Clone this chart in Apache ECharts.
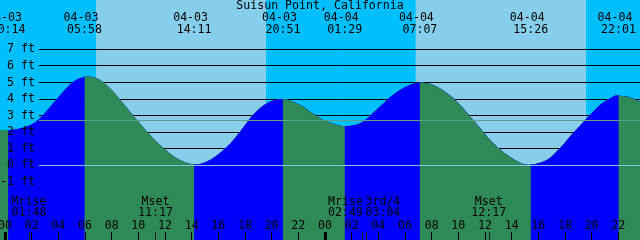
<!DOCTYPE html>
<html><head><meta charset="utf-8">
<script src="https://cdn.jsdelivr.net/npm/echarts@6/dist/echarts.min.js"></script>
<style>html,body{margin:0;padding:0;background:#fff}#c{width:640px;height:240px}</style>
</head><body><div id="c"></div>
<script>
// ---- data (hours from 04-03 00:00, heights in feet) ----
const hours = [-0.375, 0.233, 1.125, 2.1, 2.85, 3.6, 4.35, 5.1, 5.967, 6.9, 7.875, 8.85, 9.9, 10.875, 11.625, 12.9, 14.183, 15.375, 16.65, 17.625, 18.6, 19.65, 20.85, 22.125, 23.625, 24.6, 25.483, 26.625, 27.6, 28.65, 29.625, 30.375, 31.117, 32.1, 33.15, 34.125, 35.1, 35.625, 36.6, 37.65, 38.625, 39.433, 40.65, 41.625, 42.6, 43.65, 44.625, 45.6, 46.017, 46.875, 47.625];
const heights = [2.13, 2.12, 2.23, 2.53, 3.04, 3.74, 4.44, 5.05, 5.35, 5.25, 4.65, 3.74, 2.73, 1.83, 1.23, 0.42, 0.05, 0.32, 1.12, 2.03, 3.04, 3.74, 4.0, 3.64, 2.84, 2.53, 2.37, 2.53, 3.14, 3.94, 4.54, 4.85, 4.98, 4.85, 4.35, 3.64, 2.73, 2.23, 1.33, 0.62, 0.16, 0.03, 0.32, 1.03, 1.93, 2.84, 3.64, 4.14, 4.2, 4.1, 3.84];

const eventHours = [0.233, 5.967, 14.183, 20.85, 25.483, 31.117, 39.433, 46.017];
const eventKinds = ['L', 'H', 'L', 'H', 'L', 'H', 'L', 'H'];
const eventDates = ['04-03', '04-03', '04-03', '04-03', '04-04', '04-04', '04-04', '04-04'];
const eventTimes = ['00:14', '05:58', '14:11', '20:51', '01:29', '07:07', '15:26', '22:01'];

const sunriseHours = [6.83, 30.8];
const sunsetHours = [19.58, 43.58];

const moonHours = [1.8, 11.283, 26.817, 27.067, 36.283];
const moonNames = ['Mrise', 'Mset', 'Mrise', '3rd/4', 'Mset'];
const moonTimes = ['01:48', '11:17', '02:49', '03:04', '12:17'];

const hourTicks = [0, 2, 4, 6, 8, 10, 12, 14, 16, 18, 20, 22, 24, 26, 28, 30, 32, 34, 36, 38, 40, 42, 44, 46];
const midnightTicks = [0, 24];
const ftTicks = [-1, 0, 1, 2, 3, 4, 5, 6, 7];
const datumLevel = 0;
const midLevel = 2.71;
const title = 'Suisun Point, California';

// ---- styling ----
const FONT = 'DejaVu Sans Mono';
const FS = 11.6;
const GRID_LEFT = 39;
const X_MIN = -0.375, X_MAX = 47.625, Y_MIN = -4.51, Y_MAX = 9.98;
const NIGHT = '#00BFFF', DAY = '#87CEEB', RISE = '#0000FF', FALL = '#2E8B57';
const pad2 = v => String(((Math.round(v) % 24) + 24) % 24).padStart(2, '0');
const txt = { fontFamily: FONT, fontSize: FS, color: '#000' };

// water: one opaque filled path per rising/falling segment, each from its start to the end,
// later segments painted over earlier ones; the black foot lines are drawn first, underneath
const segStarts = [hours[0]].concat(eventHours);
const segColors = segStarts.map((b, k) => {
  const startKind = k === 0 ? (eventKinds[0] === 'L' ? 'H' : 'L') : eventKinds[k - 1];
  return startKind === 'L' ? RISE : FALL;
});

function waterItem(params, api) {
  const k = params.dataIndex;
  if (k === segStarts.length) {
    const xr = api.coord([X_MAX, 0])[0];
    return { type: 'group', children: ftTicks.map(v => {
      const y = Math.floor(api.coord([X_MIN, v])[1]) + 0.5;
      return { type: 'line', z2: 0, shape: { x1: GRID_LEFT, y1: y, x2: xr, y2: y },
        style: { stroke: '#000', lineWidth: 1 } };
    }) };
  }
  const P = hours.map((h, i) => api.coord([h, heights[i]]));
  const yb = api.coord([X_MIN, Y_MIN])[1];
  const n = P.length;
  const i0 = Math.max(0, hours.indexOf(segStarts[k]));
  const f = v => v.toFixed(2);
  let d = 'M' + f(P[i0][0]) + ',' + f(yb) + 'L' + f(P[i0][0]) + ',' + f(P[i0][1]);
  for (let i = i0; i < n - 1; i++) {
    const p0 = P[Math.max(i - 1, 0)], p1 = P[i], p2 = P[i + 1], p3 = P[Math.min(i + 2, n - 1)];
    d += 'C' + f(p1[0] + (p2[0] - p0[0]) / 6) + ',' + f(p1[1] + (p2[1] - p0[1]) / 6) + ',' +
      f(p2[0] - (p3[0] - p1[0]) / 6) + ',' + f(p2[1] - (p3[1] - p1[1]) / 6) + ',' +
      f(p2[0]) + ',' + f(p2[1]);
  }
  d += 'L' + f(P[n - 1][0]) + ',' + f(yb) + 'Z';
  return { type: 'path', z2: k + 5, shape: { pathData: d }, style: { fill: segColors[k], opacity: 1 } };
}

function moonLabel(v) {
  const i = moonHours.indexOf(v);
  let st = 'm';
  if (i < moonHours.length - 1 && moonHours[i + 1] - v < 2) st = 'l';
  else if (i > 0 && v - moonHours[i - 1] < 2) st = 'r';
  return '{' + st + '|' + moonNames[i] + '}\n{' + st + '|' + moonTimes[i] + '}';
}

const baseX = { type: 'value', min: X_MIN, max: X_MAX, gridIndex: 0, zlevel: 2, z: 20,
  axisLine: { show: false, onZero: false }, splitLine: { show: false } };

const option = {
  animation: false,
  backgroundColor: NIGHT,
  title: { text: title, left: 'center', top: 0, padding: 0, zlevel: 2, z: 20,
    textStyle: { fontFamily: FONT, fontSize: FS, fontWeight: 'normal', color: '#000', lineHeight: 12 } },
  grid: [
    { left: 0, right: 0, top: 0, bottom: 0, show: true, backgroundColor: NIGHT, borderWidth: 0, containLabel: false, outerBoundsMode: 'none' },
    { left: GRID_LEFT, right: 0, top: 0, bottom: 0, containLabel: false, outerBoundsMode: 'none' }
  ],
  xAxis: [
    Object.assign({}, baseX, { position: 'bottom',
      axisTick: { show: true, inside: true, length: 8, customValues: hourTicks, lineStyle: { color: '#000', width: 1 } },
      axisLabel: Object.assign({ show: true, inside: true, margin: 8.5, lineHeight: 12, customValues: hourTicks, formatter: v => pad2(v) }, txt) }),
    { type: 'value', min: X_MIN, max: X_MAX, gridIndex: 1, show: false, splitLine: { show: false } },
    Object.assign({}, baseX, { position: 'bottom',
      axisTick: { show: true, inside: true, length: 8, customValues: midnightTicks, lineStyle: { color: '#000', width: 3 } },
      axisLabel: { show: false } }),
    Object.assign({}, baseX, { position: 'bottom',
      axisTick: { show: true, inside: true, length: 8, customValues: moonHours, lineStyle: { color: '#222', width: 1 } },
      axisLabel: { show: true, inside: true, margin: 21, customValues: moonHours, formatter: moonLabel,
        rich: {
          m: Object.assign({ lineHeight: 11.5 }, txt),
          l: Object.assign({ lineHeight: 11.5, padding: [0, 34, 0, 0] }, txt),
          r: Object.assign({ lineHeight: 11.5, padding: [0, 0, 0, 34] }, txt)
        } } }),
    Object.assign({}, baseX, { position: 'top',
      axisTick: { show: false },
      axisLabel: { show: true, inside: true, margin: 11.5, customValues: eventHours,
        formatter: v => { const i = eventHours.indexOf(v); return '{d|' + eventDates[i] + '}\n{t|' + eventTimes[i] + '}'; },
        rich: {
          d: Object.assign({ lineHeight: 12, padding: [0, 7, 0, 0] }, txt),
          t: Object.assign({ lineHeight: 12 }, txt)
        } } })
  ],
  yAxis: [
    { type: 'value', min: Y_MIN, max: Y_MAX, gridIndex: 0, zlevel: 2, z: 20,
      axisLine: { show: false, onZero: false }, axisTick: { show: false }, splitLine: { show: false },
      axisLabel: Object.assign({ inside: true, align: 'right', margin: 35, customValues: ftTicks, formatter: v => v + ' ft' }, txt) },
    { type: 'value', min: Y_MIN, max: Y_MAX, gridIndex: 1, show: false, splitLine: { show: false } }
  ],
  series: [
    { type: 'line', xAxisIndex: 0, yAxisIndex: 0, data: [], zlevel: 0, z: 0, silent: true,
      markArea: { silent: true, zlevel: 0, z: 0, itemStyle: { color: DAY, opacity: 1 },
        data: sunriseHours.map((s, i) => [{ xAxis: s }, { xAxis: sunsetHours[i] }]) } },
    { type: 'custom', xAxisIndex: 0, yAxisIndex: 0, zlevel: 1, z: 8, silent: true, clip: false,
      data: segStarts.map(b => [b, 0]).concat([[X_MIN, 0]]), renderItem: waterItem },
    { type: 'line', xAxisIndex: 1, yAxisIndex: 1, data: [], zlevel: 2, z: 12, silent: true,
      markLine: { silent: true, zlevel: 2, z: 12, symbol: 'none', label: { show: false },
        data: [
          { yAxis: datumLevel, lineStyle: { color: '#7EC8E3', width: 1, type: 'solid' } },
          { yAxis: midLevel, lineStyle: { color: '#5E9E8C', width: 1, type: 'solid' } }
        ] } }
  ]
};

const chart = echarts.init(document.getElementById('c'), null, { renderer: 'canvas' });
chart.setOption(option);
</script>
</body></html>
